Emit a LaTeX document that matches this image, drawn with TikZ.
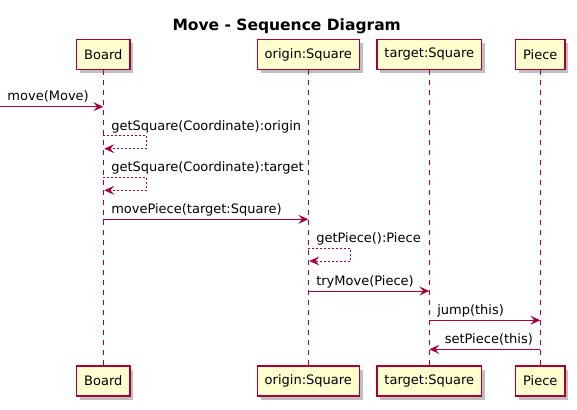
\documentclass[tikz,border=0pt]{standalone}
\usepackage{fontspec}
\setmainfont{DejaVu Sans}
\usetikzlibrary{arrows.meta,shadows}
\definecolor{umlred}{HTML}{A80036}
\definecolor{umlfill}{HTML}{FEFECE}

\begin{document}
\begin{tikzpicture}[
  x=1pt, y=-1pt, >={Stealth[length=10pt, width=9pt, inset=4pt]},
  every node/.style={font=\fontsize{13}{15}\selectfont},
  part/.style={draw=umlred, line width=1.2pt, fill=umlfill, minimum height=30pt,
               inner xsep=7.5pt, inner ysep=0pt,
               drop shadow={shadow xshift=3.5pt, shadow yshift=-3.5pt, fill=black, opacity=.25}},
  life/.style={draw=umlred, line width=0.8pt, dash pattern=on 5pt off 5pt},
  msg/.style={draw=umlred, line width=0.9pt, ->},
  ret/.style={draw=umlred, line width=0.9pt, ->, dash pattern=on 2pt off 2pt},
  lbl/.style={inner sep=0pt, anchor=base west, xshift=7.5pt, yshift=5.5pt}
]
  \useasboundingbox (0,0) rectangle (577,409);
  \node[font=\bfseries\fontsize{15.5}{18}\selectfont, anchor=base] (title) at (286.7,30.5)
        {Move - Sequence Diagram};

  % participants and lifelines
  \foreach \x/\nm/\lab in {103.3/board/Board, 308.3/origin/origin:Square,
                           429.3/target/target:Square, 540.3/piece/Piece} {
    \node[part] (\nm T) at (\x,54.5) {\lab};
    \node[part] (\nm B) at (\x,381) {\lab};
    \draw[life] (\nm T) -- (\nm B);
  }

  % messages
  \coordinate (in) at (0,106.7);
  \draw[msg] (in) node[lbl, xshift=-0.5pt, yshift=0.5pt] {move(Move)} -- (boardT |- in);
  \draw[ret] (boardT |- 0,135.7) node[lbl] {getSquare(Coordinate):origin}
        -- ++(43.4,0) -- ++(0,13) -- ([xshift=1pt]boardT |- 0,148.7);
  \draw[ret] (boardT |- 0,177.3) node[lbl] {getSquare(Coordinate):target}
        -- ++(43.4,0) -- ++(0,13) -- ([xshift=1pt]boardT |- 0,190.3);
  \draw[msg] (boardT |- 0,219.3) node[lbl] {movePiece(target:Square)} -- (originT |- 0,219.3);
  \draw[ret] (originT |- 0,248.3) node[lbl] {getPiece():Piece}
        -- ++(42.4,0) -- ++(0,12.7) -- ([xshift=1pt]originT |- 0,261);
  \draw[msg] (originT |- 0,291) node[lbl] {tryMove(Piece)} -- (targetT |- 0,291);
  \draw[msg] (targetT |- 0,320.3) node[lbl] {jump(this)} -- (pieceT |- 0,320.3);
  \draw[msg] (pieceT |- 0,349.3) node[lbl, anchor=base east, xshift=-14.5pt] {setPiece(this)}
        -- (targetT |- 0,349.3);
\end{tikzpicture}
\end{document}
